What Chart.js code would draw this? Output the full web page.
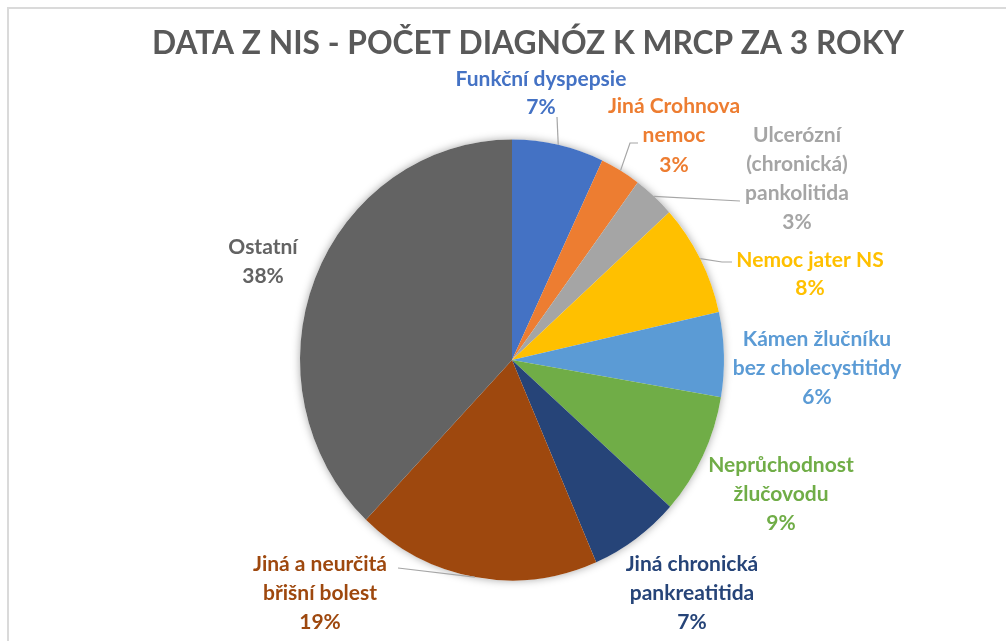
<!DOCTYPE html>
<html lang="cs">
<head>
<meta charset="UTF-8" />
<title>Data z NIS</title>
<script src="https://cdn.jsdelivr.net/npm/chart.js"></script>
<style>
  html, body { margin: 0; padding: 0; background: #fff; }
  #wrap { width: 1006px; height: 641px; }
</style>
</head>
<body>
<div id="wrap"><canvas id="pie" width="1006" height="641"></canvas></div>
<script>
const chartTitle = "DATA Z NIS - POČET DIAGNÓZ K MRCP ZA 3 ROKY";

const categories = [
  "Funkční dyspepsie",
  "Jiná Crohnova nemoc",
  "Ulcerózní (chronická) pankolitida",
  "Nemoc jater NS",
  "Kámen žlučníku bez cholecystitidy",
  "Neprůchodnost žlučovodu",
  "Jiná chronická pankreatitida",
  "Jiná a neurčitá břišní bolest",
  "Ostatní",
];
// share of diagnoses, %
const values = [7.0, 3.1, 3.2, 8.2, 6.2, 8.9, 6.9, 18.6, 37.9];

const colors = ["#4472C4", "#ED7D31", "#A5A5A5", "#FFC000", "#5B9BD5",
                "#70AD47", "#264478", "#9E480E", "#636363"];

// label placement: words per row, centre x, row baselines, leader bend points
const labelLayout = [
  { words: [2],       x: 541, rows: [86, 114],           leader: [[557, 117]] },
  { words: [2, 1],    x: 674, rows: [113, 142, 172],     leader: [[630, 143], [638, 143]] },
  { words: [1, 1, 1], x: 797, rows: [142, 171, 200, 229], leader: [[740, 201]] },
  { words: [3],       x: 810, rows: [267, 295],          leader: [[722, 262], [732, 262]] },
  { words: [2, 2],    x: 817, rows: [346, 375, 404],     leader: null },
  { words: [1, 1],    x: 781, rows: [472, 501, 530],     leader: null },
  { words: [2, 1],    x: 692, rows: [571, 600, 629],     leader: null },
  { words: [3, 2],    x: 320, rows: [571, 600, 629],     leader: [[398, 568]] },
  { words: [1],       x: 263, rows: [254, 283],          leader: null },
];

const ySquash = 1.04; // pie in the original is slightly taller than wide
const fontFamily = "Lato, 'Open Sans', sans-serif";

function splitRows(name, words) {
  const parts = name.split(" ");
  const rows = [];
  let i = 0;
  for (const n of words) {
    rows.push(parts.slice(i, i + n).join(" "));
    i += n;
  }
  return rows;
}

const pieExtras = {
  id: "pieExtras",
  beforeDraw(chart) {
    const ctx = chart.ctx;
    ctx.save();
    ctx.fillStyle = "#fff";
    ctx.fillRect(0, 0, chart.width, chart.height);
    ctx.strokeStyle = "#DADADA";
    ctx.lineWidth = 2;
    ctx.beginPath();
    ctx.moveTo(8, chart.height);
    ctx.lineTo(8, 8);
    ctx.lineTo(chart.width, 8);
    ctx.stroke();
    ctx.restore();
  },
  beforeDatasetsDraw(chart) {
    const ctx = chart.ctx;
    const arc = chart.getDatasetMeta(0).data[0];
    ctx.save();
    // soft shadow round the pie
    ctx.save();
    ctx.shadowColor = "rgba(0,0,0,0.35)";
    ctx.shadowBlur = 8;
    ctx.fillStyle = "#fff";
    ctx.beginPath();
    ctx.ellipse(arc.x, arc.y, arc.outerRadius, arc.outerRadius * ySquash, 0, 0, Math.PI * 2);
    ctx.fill();
    ctx.restore();
    ctx.translate(arc.x, arc.y);
    ctx.scale(1, ySquash);
    ctx.translate(-arc.x, -arc.y);
  },
  afterDatasetsDraw(chart) {
    const ctx = chart.ctx;
    ctx.restore();

    const meta = chart.getDatasetMeta(0);
    const total = values.reduce((s, v) => s + v, 0);

    // leader lines
    ctx.save();
    ctx.strokeStyle = "#A6A6A6";
    ctx.lineWidth = 1.2;
    meta.data.forEach((arc, i) => {
      const lay = labelLayout[i];
      if (!lay.leader) return;
      const mid = (arc.startAngle + arc.endAngle) / 2;
      const px = arc.x + arc.outerRadius * Math.cos(mid);
      const py = arc.y + arc.outerRadius * ySquash * Math.sin(mid);
      ctx.beginPath();
      ctx.moveTo(px, py);
      lay.leader.forEach(([lx, ly]) => ctx.lineTo(lx, ly));
      ctx.stroke();
    });
    ctx.restore();

    // data labels
    ctx.save();
    ctx.font = "bold 21px " + fontFamily;
    ctx.textAlign = "center";
    ctx.textBaseline = "alphabetic";
    const k = Math.min(1, 172 / ctx.measureText("Funkční dyspepsie").width);
    categories.forEach((name, i) => {
      const lay = labelLayout[i];
      const rows = splitRows(name, lay.words);
      rows.push(Math.round((values[i] / total) * 100) + "%");
      ctx.fillStyle = colors[i];
      rows.forEach((txt, r) => {
        const w = ctx.measureText(txt).width;
        ctx.fillText(txt, lay.x, lay.rows[r], w * k);
      });
    });
    ctx.restore();

    // title
    ctx.save();
    ctx.font = "bold 33px " + fontFamily;
    ctx.fillStyle = "#595959";
    ctx.textAlign = "center";
    ctx.textBaseline = "alphabetic";
    const tw = ctx.measureText(chartTitle).width;
    ctx.fillText(chartTitle, 528, 54, Math.min(tw, 752));
    ctx.restore();
  },
};

new Chart(document.getElementById("pie"), {
  type: "pie",
  data: {
    labels: categories,
    datasets: [
      {
        data: values,
        backgroundColor: colors,
        borderWidth: 0,
      },
    ],
  },
  options: {
    responsive: false,
    animation: false,
    events: [],
    layout: { padding: { left: 300, right: 282, top: 148, bottom: 69 } },
    plugins: {
      legend: { display: false },
      tooltip: { enabled: false },
    },
  },
  plugins: [pieExtras],
});
</script>
</body>
</html>
